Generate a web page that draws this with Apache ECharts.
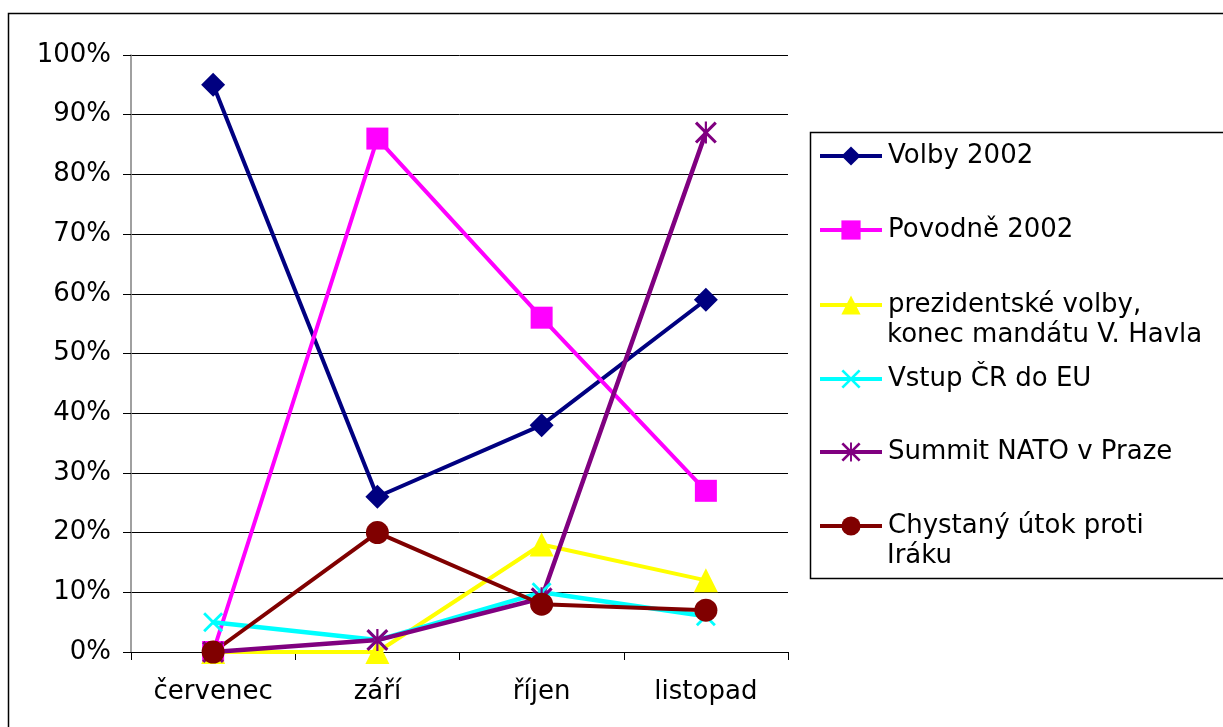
<!DOCTYPE html>
<html>
<head>
<meta charset="utf-8">
<script src="https://cdn.jsdelivr.net/npm/echarts@6/dist/echarts.min.js"></script>
<style>
  html, body { margin: 0; padding: 0; background: #fff; }
  #main { width: 1223px; height: 727px; }
</style>
</head>
<body>
<div id="main"></div>
<script>
const months = ['červenec', 'září', 'říjen', 'listopad'];

const volby = [95, 26, 38, 59];
const povodne = [0, 86, 56, 27];
const prezident = [0, 0, 18, 12];
const vstupEU = [5, 2, 10, 6];
const summitNATO = [0, 2, 9, 87];
const irak = [0, 20, 8, 7];

const names = [
    'Volby 2002',
    'Povodně 2002',
    'prezidentské volby, konec mandátu V. Havla',
    'Vstup ČR do EU',
    'Summit NATO v Praze',
    'Chystaný útok proti Iráku'
];
// first line of each legend entry, second line drawn as graphic text
const legendFirst = ['Volby 2002', 'Povodně 2002', 'prezidentské volby,', 'Vstup ČR do EU', 'Summit NATO v Praze', 'Chystaný útok proti'];

const FONT = 'DejaVu Sans';
const crossPath = 'path://M0,1L1,0L10,9L9,10Z M9,0L10,1L1,10L0,9Z';
const starPath = 'path://M0,1L1,0L10,9L9,10Z M9,0L10,1L1,10L0,9Z M4.5,0L5.5,0L5.5,10L4.5,10Z';

function line(name, data, color, symbol, size, width) {
    return {
        name: name,
        type: 'line',
        data: data,
        symbol: symbol,
        symbolSize: size,
        showAllSymbol: true,
        lineStyle: { color: color, width: width || 4 },
        itemStyle: { color: color, borderWidth: 0 },
        emphasis: { disabled: true },
        animation: false
    };
}

const legendTops = [155, 229, 304, 378, 451, 525];
const legends = names.map((n, i) => ({
    data: [n],
    left: 818,
    top: legendTops[i] - 12,
    padding: 0,
    itemWidth: 62,
    itemHeight: 24,
    selectedMode: false,
    formatter: () => legendFirst[i],
    lineStyle: { width: 4 },
    textStyle: { fontFamily: FONT, fontSize: 26, color: '#000', padding: [0, 0, 0, 1] }
}));

const chart = echarts.init(document.getElementById('main'));
chart.setOption({
    backgroundColor: '#fff',
    animation: false,
    grid: { left: 131, right: 435, top: 55, bottom: 75 },
    legend: legends,
    xAxis: {
        type: 'category',
        data: months,
        boundaryGap: true,
        axisLine: { lineStyle: { color: '#000', width: 1 } },
        axisTick: { show: true, length: 8, lineStyle: { color: '#000' } },
        axisLabel: { fontFamily: FONT, fontSize: 26, color: '#000', margin: 27 },
        splitLine: { show: false }
    },
    yAxis: {
        type: 'value',
        min: 0,
        max: 100,
        interval: 10,
        axisLine: { show: true, lineStyle: { color: '#808080', width: 1.5 } },
        axisTick: { show: true, length: 8, lineStyle: { color: '#000' } },
        axisLabel: { fontFamily: FONT, fontSize: 26, color: '#000', margin: 20, formatter: '{value}%' },
        splitLine: { show: true, lineStyle: { color: '#000', width: 1 } }
    },
    graphic: [
        {
            type: 'rect', silent: true, z: -1,
            shape: { x: 8.5, y: 13.5, width: 1300, height: 800 },
            style: { fill: 'none', stroke: '#000', lineWidth: 1.5 }
        },
        {
            type: 'rect', silent: true,
            shape: { x: 810.5, y: 132.5, width: 500, height: 446 },
            style: { fill: 'none', stroke: '#000', lineWidth: 1.5 }
        },
        {
            type: 'text', left: 887, top: 334 - 12, silent: true,
            style: { text: 'konec mandátu V. Havla', font: '26px "DejaVu Sans"', fill: '#000' }
        },
        {
            type: 'text', left: 887, top: 555 - 12, silent: true,
            style: { text: 'Iráku', font: '26px "DejaVu Sans"', fill: '#000' }
        }
    ],
    series: [
        line(names[0], volby, '#000080', 'diamond', 24),
        line(names[1], povodne, '#FF00FF', 'rect', 22),
        line(names[2], prezident, '#FFFF00', 'triangle', 24),
        line(names[3], vstupEU, '#00FFFF', crossPath, 20, 4.5),
        line(names[4], summitNATO, '#800080', starPath, 22, 4.5),
        line(names[5], irak, '#800000', 'circle', 23)
    ]
});
</script>
</body>
</html>
